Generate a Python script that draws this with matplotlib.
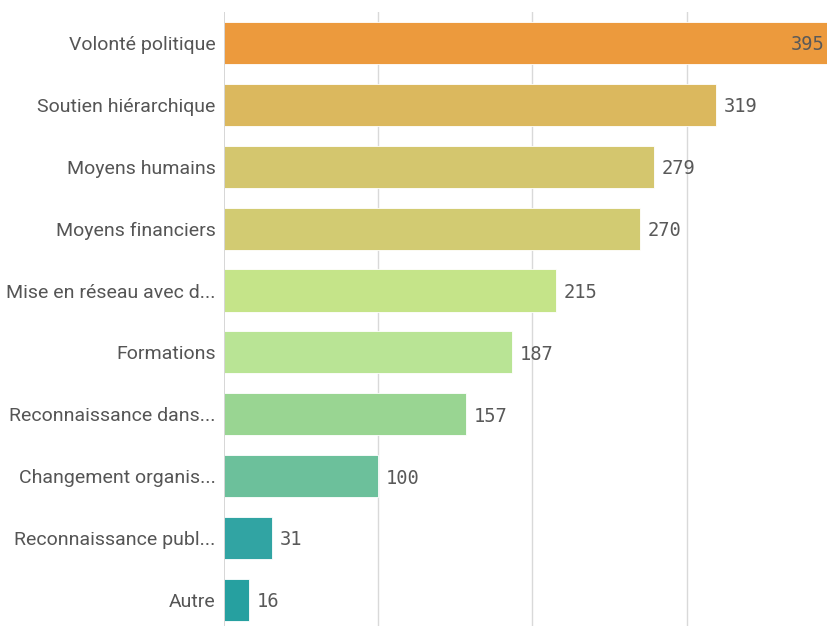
import matplotlib.pyplot as plt

labels = ["Volonté politique", "Soutien hiérarchique", "Moyens humains",
          "Moyens financiers", "Mise en réseau avec d...", "Formations",
          "Reconnaissance dans...", "Changement organis...",
          "Reconnaissance publ...", "Autre"]
values = [395, 319, 279, 270, 215, 187, 157, 100, 31, 16]
colors = ["#EC9A3D", "#DBB85E", "#D4C66E", "#D2CB72", "#C5E489",
          "#B9E495", "#99D592", "#6CC09B", "#31A4A3", "#26A0A0"]

fig = plt.figure(figsize=(8.28, 6.26), dpi=100)
ax = fig.add_axes([224 / 828, 0, 1 - 224 / 828, 1 - 12 / 626])

ypos = list(range(len(values)))
ax.barh(ypos, values, height=0.68, color=colors, edgecolor="white",
        linewidth=0.6, zorder=2)

xmax = 391.7
ax.set_xlim(0, xmax)
ax.set_ylim(9.42, -0.5)

for x in (100, 200, 300):
    ax.axvline(x, color="#D9D9D9", linewidth=1, zorder=1)
ax.axvline(0, color="#CFCFCF", linewidth=1.2, zorder=3)

for y, v in zip(ypos, values):
    if v > xmax - 20:
        ax.text(xmax - 2.5, y + 0.03, str(v), ha="right", va="center",
                family="DejaVu Sans Mono", fontsize=13.5, color="#595959",
                zorder=4)
    else:
        ax.text(v + 5, y + 0.03, str(v), ha="left", va="center",
                family="DejaVu Sans Mono", fontsize=13.5, color="#595959",
                zorder=4)

ax.set_yticks(ypos)
ax.set_yticklabels(labels, family="Roboto", fontsize=14, color="#555555")
ax.tick_params(axis="y", length=0, pad=6)
ax.set_xticks([])
for s in ax.spines.values():
    s.set_visible(False)

fig.savefig("out.png", dpi=100)
